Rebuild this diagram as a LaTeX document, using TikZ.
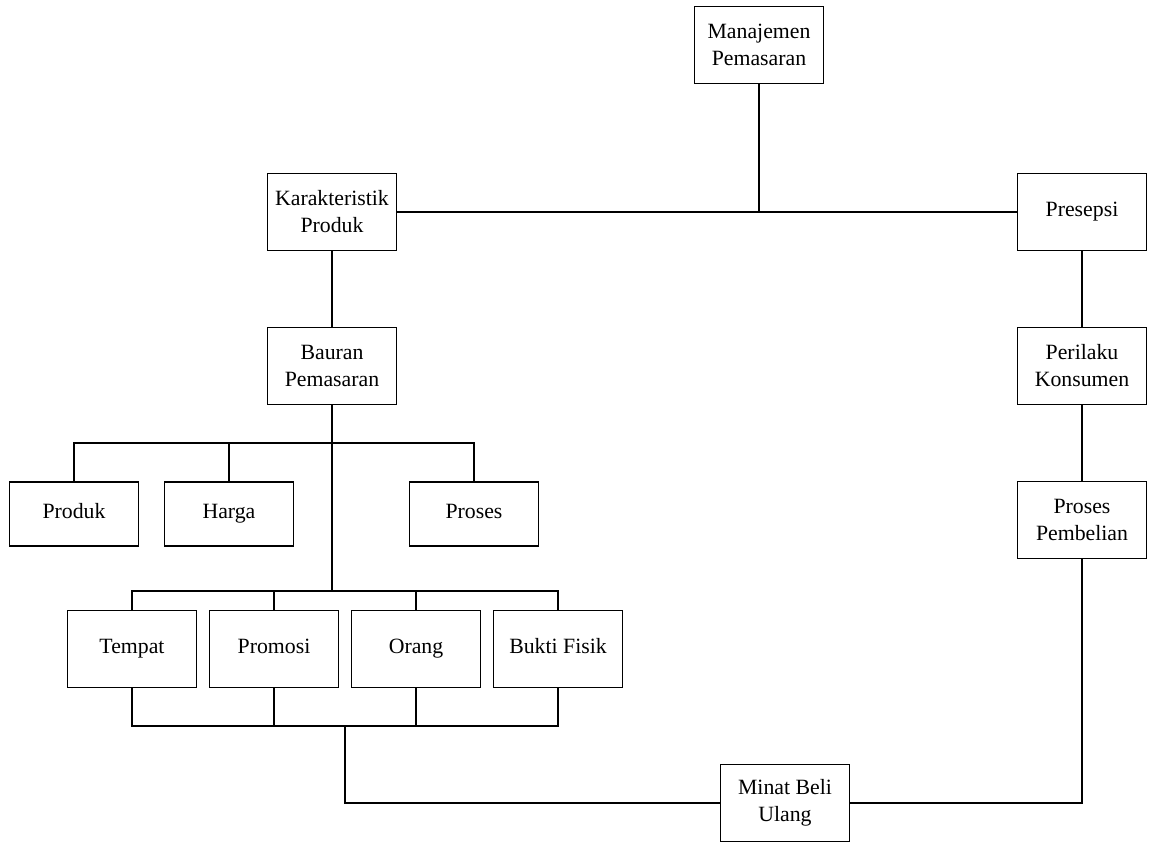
\documentclass[tikz,border=0pt]{standalone}
\usepackage{fontspec}
\setmainfont{Liberation Serif}
\usetikzlibrary{positioning}

\begin{document}
\begin{tikzpicture}[
  x=0.02cm, y=-0.02cm,
  box/.style={rectangle, draw, line width=0.6pt,
              minimum width=2.58cm, minimum height=1.54cm,
              inner sep=2pt, align=center,
              font=\fontsize{12.4}{15.4}\selectfont},
  single/.style={box, text height=1.6ex, text depth=0.45ex},
  smallbox/.style={single, minimum height=1.28cm},
  link/.style={line width=0.6pt},
  trunk/.style={line width=1.1pt}
]
  \useasboundingbox (0,0) rectangle (1149,844);

  \node[box] (manajemen)     at (759,45)  {Manajemen\\Pemasaran};
  \node[box] (karakteristik) at (332,212) {Karakteristik\\Produk};
  \node[single] (presepsi)   at (1082,212) {Presepsi};

  \node[box] (bauran)    at (332,366)  {Bauran\\Pemasaran};
  \node[box] (perilaku)  at (1082,366) {Perilaku\\Konsumen};
  \node[box] (pembelian) at (1082,520) {Proses\\Pembelian};

  \node[smallbox] (produk) at (74,514)  {Produk};
  \node[smallbox] (harga)  at (229,514) {Harga};
  \node[smallbox] (proses) at (474,514) {Proses};

  \node[single] (tempat)  at (132,649) {Tempat};
  \node[single] (promosi) at (274,649) {Promosi};
  \node[single] (orang)   at (416,649) {Orang};
  \node[single] (bukti)   at (558,649) {Bukti Fisik};

  \node[box] (minat) at (785,803) {Minat Beli\\Ulang};

  \coordinate (bus1) at (332,443);
  \coordinate (bus2) at (332,591);
  \coordinate (bus3) at (345,726);

  % edges
  \draw[link] (manajemen) -- (manajemen |- karakteristik);
  \draw[link] (karakteristik) -- (presepsi);
  \draw[link] (karakteristik) -- (bauran);
  \draw[link] (presepsi) -- (perilaku);
  \draw[link] (perilaku) -- (pembelian);

  \draw[trunk] (bauran.south) -- (bus2);
  \draw[link] (produk.north) |- (bus1) -| (proses.north);
  \draw[link] (harga.north) -- (harga |- bus1);

  \draw[link] (tempat.north) |- (bus2) -| (bukti.north);
  \draw[link] (promosi.north) -- (promosi |- bus2);
  \draw[link] (orang.north) -- (orang |- bus2);

  \draw[link] (tempat.south) |- (bus3) -| (bukti.south);
  \draw[link] (promosi.south) -- (promosi |- bus3);
  \draw[link] (orang.south) -- (orang |- bus3);

  \draw[link] (bus3) |- (minat.west);
  \draw[link] (minat.east) -| (pembelian.south);
\end{tikzpicture}
\end{document}
